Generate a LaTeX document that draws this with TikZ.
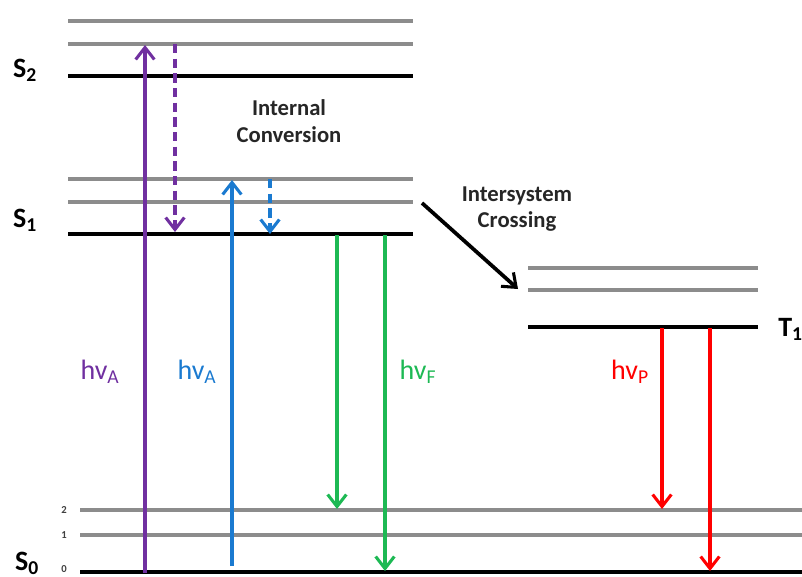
\documentclass[tikz,border=0pt]{standalone}
\usepackage{fontspec}
\setmainfont{Carlito}
\usetikzlibrary{arrows.meta}
\definecolor{lvgray}{HTML}{8C8C8C}
\definecolor{cpurple}{HTML}{7030A0}
\definecolor{cblue}{HTML}{1A7AD0}
\definecolor{cgreen}{HTML}{1DB954}
\definecolor{cred}{HTML}{FF0000}
\tikzset{
  vib/.style={draw=lvgray, line width=2.8pt},
  elec/.style={draw=black, line width=2.8pt},
  trans/.style={line width=2.5pt, -{Straight Barb[length=9pt, width=14pt, line width=2.3pt]}},
  nonrad/.style={trans, dash pattern=on 7pt off 4pt},
  statelbl/.style={font=\fontsize{21}{24}\selectfont\bfseries, inner sep=0pt},
  vlbl/.style={font=\fontsize{8}{9}\selectfont\bfseries, text=black!75, inner sep=0pt},
  hv/.style={font=\fontsize{21}{24}\selectfont, inner sep=0pt},
  proc/.style={font=\fontsize{17}{20}\selectfont\bfseries, text=black!85, align=center, inner sep=0pt}
}
\begin{document}
\begin{tikzpicture}[x=0.75pt, y=-0.75pt]
\useasboundingbox (0,0) rectangle (802,576);
% S2 manifold
\draw[vib]  (68,21) -- (413,21);
\draw[vib]  (68,44) -- (413,44);
\draw[elec] (68,76) -- (413,76);
% S1 manifold
\draw[vib]  (68,179) -- (413,179);
\draw[vib]  (68,202) -- (413,202);
\draw[elec] (68,234) -- (413,234);
% T1 manifold
\draw[vib]  (528,268) -- (758,268);
\draw[vib]  (528,290) -- (758,290);
\draw[elec] (528,327) -- (758,327);
% S0 manifold
\draw[vib]  (80,510) -- (802,510);
\draw[vib]  (80,535) -- (802,535);
\draw[elec] (80,572) -- (802,572);

% state labels
\node[statelbl] (s2) at (25,70) {S\textsubscript{2}};
\node[statelbl] (s1) at (25,220) {S\textsubscript{1}};
\node[statelbl] (s0) at (27,563) {S\textsubscript{0}};
\node[statelbl, anchor=west] (t1) at (778,329) {T\textsubscript{1}};
\node[vlbl] (v2) at (64,510) {2};
\node[vlbl] (v1) at (64,535) {1};
\node[vlbl] (v0) at (64,569) {0};

% endpoints of the transitions
\coordinate (pa0) at (145,573);  \coordinate (pa1) at (145,45);
\coordinate (pd0) at (175,44);   \coordinate (pd1) at (175,232);
\coordinate (ba0) at (232,566);  \coordinate (ba1) at (232,180);
\coordinate (bd0) at (270,179);  \coordinate (bd1) at (270,234);
\coordinate (ga0) at (337,235);  \coordinate (ga1) at (337,509);
\coordinate (gb0) at (385,235);  \coordinate (gb1) at (385,571);
\coordinate (ra0) at (662,328);  \coordinate (ra1) at (662,509);
\coordinate (rb0) at (710,328);  \coordinate (rb1) at (710,571);
\coordinate (isc0) at (422,203); \coordinate (isc1) at (518,289);

% absorption and relaxation
\draw[trans, cpurple] (pa0) -- (pa1);
\draw[nonrad, cpurple] (pd0) -- (pd1);
\draw[trans, cblue] (ba0) -- (ba1);
\draw[nonrad, cblue] (bd0) -- (bd1);
% fluorescence
\draw[trans, cgreen] (ga0) -- (ga1);
\draw[trans, cgreen] (gb0) -- (gb1);
% phosphorescence
\draw[trans, cred] (ra0) -- (ra1);
\draw[trans, cred] (rb0) -- (rb1);
% intersystem crossing
\draw[trans, black, line width=2.8pt] (isc0) -- (isc1);

% process labels
\node[proc] (ic) at (289,121) {Internal\\Conversion};
\node[proc] (isc) at (517,209) {Intersystem\\Crossing};
\node[hv, text=cpurple] (hva1) at (100,372) {hv\textsubscript{A}};
\node[hv, text=cblue] (hva2) at (197,372) {hv\textsubscript{A}};
\node[hv, text=cgreen] (hvf) at (418,372) {hv\textsubscript{F}};
\node[hv, text=cred] (hvp) at (630,372) {hv\textsubscript{P}};
\end{tikzpicture}
\end{document}
